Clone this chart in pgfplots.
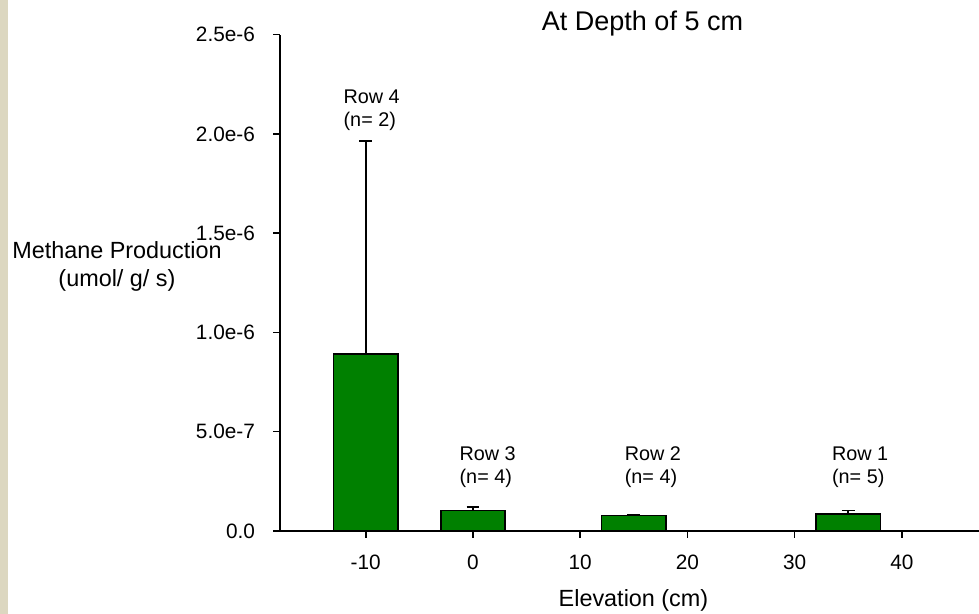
\documentclass[border=0pt]{standalone}
\usepackage{fontspec}
\setmainfont{Liberation Sans}
\usepackage{pgfplots}
\pgfplotsset{compat=1.18}

\definecolor{barGreen}{RGB}{0,128,0}
\definecolor{sideStrip}{RGB}{220,215,192}

\begin{document}
\begin{tikzpicture}
\useasboundingbox (0pt,0pt) rectangle (489.5pt,307pt);
\fill[sideStrip] (0pt,0pt) rectangle (4.15pt,307pt);
\begin{axis}[
  at={(140pt,41.5pt)}, anchor=south west,
  scale only axis,
  width=349.5pt, height=248.15pt,
  xmin=-18, xmax=47.2,
  ymin=0, ymax=2.5e-6,
  axis lines*=left,
  axis line style={line width=0.75pt, -},
  tick align=outside,
  major tick length=3.5pt,
  tick style={line width=0.75pt, black},
  xtick={-10,0,10,20,30,40},
  xticklabels={-10,0,10,20,30,40},
  ytick={0,5e-7,1e-6,1.5e-6,2e-6,2.5e-6},
  yticklabels={0.0,5.0e-7,1.0e-6,1.5e-6,2.0e-6,2.5e-6},
  scaled y ticks=false,
  tick label style={font=\fontsize{10.4}{12}\selectfont},
  xticklabel style={yshift=-5pt},
  yticklabel style={xshift=-5.5pt},
  ybar,
  bar width=6,
  xlabel={Elevation (cm)},
  xlabel style={font=\fontsize{11.7}{14}\selectfont, at={(axis description cs:0.5057,-0.139)}, anchor=center},
  ylabel={Methane Production\\(umol/ g/ s)},
  ylabel style={font=\fontsize{11.7}{13.75}\selectfont, rotate=-90, align=center,
    at={(axis description cs:-0.2332,0.533)}, anchor=center},
  title={At Depth of 5 cm},
  title style={font=\fontsize{13.5}{16}\selectfont, at={(axis description cs:0.5186,0.998)}, anchor=center},
  clip=false,
]
% mean methane production per row, with upper standard error
\addplot[fill=barGreen, draw=black, line width=0.75pt,
  error bars/.cd, y dir=plus, y explicit,
  error bar style={black, line width=0.75pt},
  error mark options={rotate=90, black, mark size=3.2pt, line width=0.75pt}]
coordinates {
  (-10,8.91e-7) +- (0,1.074e-6)
  (0,1.04e-7)   +- (0,1.8e-8)
  (15,7.7e-8)   +- (0,5e-9)
  (35,8.56e-8)  +- (0,1.64e-8)
};
\begin{scope}[every node/.style={font=\fontsize{9.9}{11.5}\selectfont, align=left, anchor=west, inner sep=0pt}]
\node at (axis cs:-12.1,2.117e-6) {Row 4\\(n= 2)};
\node at (axis cs:-1.28,3.20e-7) {Row 3\\(n= 4)};
\node at (axis cs:14.13,3.20e-7) {Row 2\\(n= 4)};
\node at (axis cs:33.46,3.20e-7) {Row 1\\(n= 5)};
\end{scope}
\end{axis}
\end{tikzpicture}
\end{document}
